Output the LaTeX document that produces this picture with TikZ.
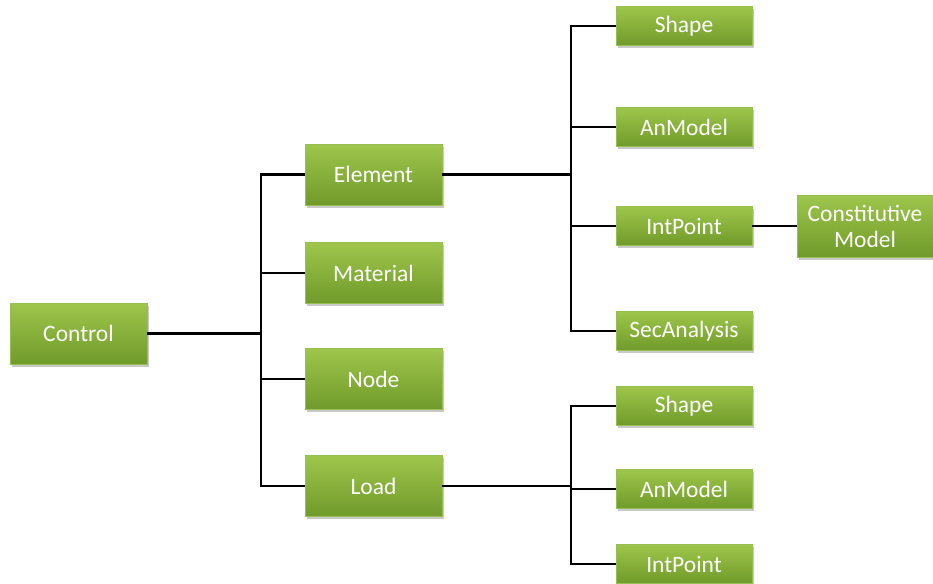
\documentclass[tikz,border=0pt]{standalone}
\usepackage{fontspec}
\setmainfont{Carlito}
\usetikzlibrary{shapes,calc,positioning,shadows}
\definecolor{boxtop}{RGB}{158,198,76}
\definecolor{boxbot}{RGB}{112,154,42}
\definecolor{boxedge}{RGB}{150,190,80}
\tikzset{box/.style={rectangle, top color=boxtop, bottom color=boxbot, draw=boxedge, line width=0.6pt, text=white, font=\fontsize{23.5}{26}\selectfont, minimum width=137pt, minimum height=61pt, inner sep=0pt, align=center, drop shadow={shadow xshift=1.5pt, shadow yshift=-2.5pt, opacity=0.3, fill=black!70}}}
\tikzstyle{leaf}=[box, minimum width=136pt, minimum height=39pt]
\tikzstyle{wire}=[line width=2.8pt, black]

\begin{document}
\begin{tikzpicture}[x=1pt, y=-1pt]
\useasboundingbox (0,0) rectangle (933,583);
\node[box] (control) at (78.5,333.5) {Control};
\node[box] (element) at (373.5,174.5) {Element};
\node[box] (material) at (373.5,273) {Material};
\node[box] (node) at (373.5,379) {Node};
\node[box] (load) at (373.5,486) {Load};

\node[leaf] (shapeA) at (684,26) {Shape};
\node[leaf] (anmodelA) at (684,127) {AnModel};
\node[leaf] (intpointA) at (684,226) {IntPoint};
\node[leaf] (secanalysis) at (684,331) {SecAnalysis};
\node[leaf] (shapeB) at (684,406) {Shape};
\node[leaf] (anmodelB) at (684,489) {AnModel};
\node[leaf] (intpointB) at (684,564) {IntPoint};
\node[box, minimum width=136pt, minimum height=62pt] (constitutive) at (865,226) {Constitutive\\Model};

\coordinate (ta) at (261,0);
\coordinate (tb) at (571,0);

% control to its four children
\draw[wire] (control) -- (ta |- control);
\draw[wire] (element) -- (ta |- element) -- (ta |- load) -- (load);
\draw[wire] (ta |- material) -- (material);
\draw[wire] (ta |- node) -- (node);

% element side
\draw[wire] (element) -- (tb |- element);
\draw[wire] (shapeA) -- (tb |- shapeA) -- (tb |- secanalysis) -- (secanalysis);
\draw[wire] (tb |- anmodelA) -- (anmodelA);
\draw[wire] (tb |- intpointA) -- (intpointA);
\draw[wire] (intpointA) -- (constitutive);

% load side
\draw[wire] (load) -- (tb |- load);
\draw[wire] (shapeB) -- (tb |- shapeB) -- (tb |- intpointB) -- (intpointB);
\draw[wire] (tb |- anmodelB) -- (anmodelB);
\end{tikzpicture}
\end{document}
